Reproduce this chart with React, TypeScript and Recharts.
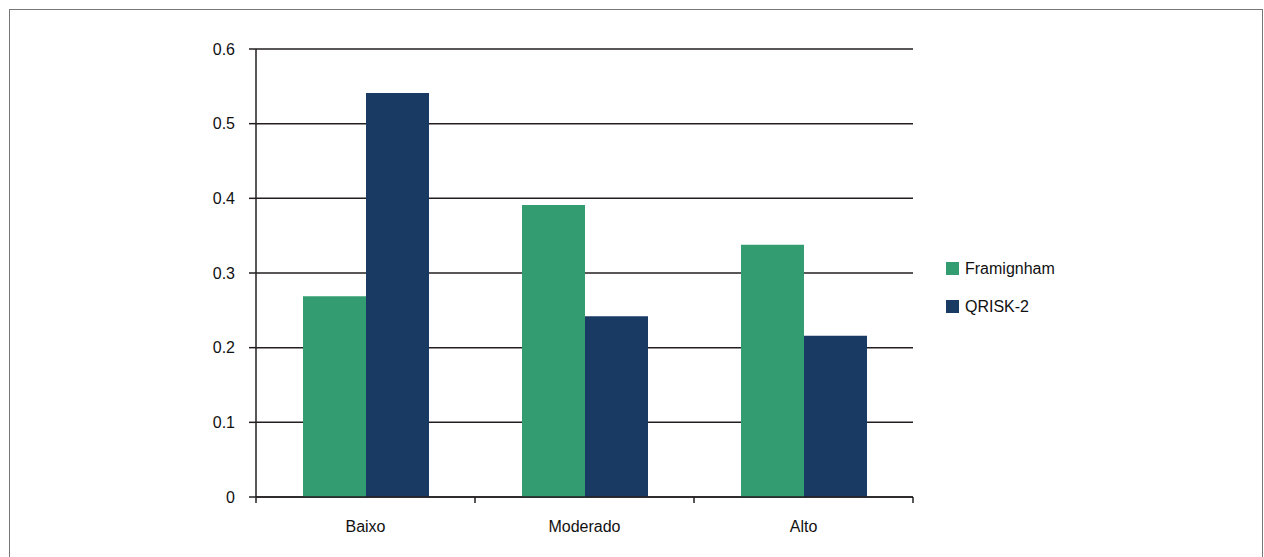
import React from 'react';
import { BarChart, Bar, XAxis, YAxis, CartesianGrid } from 'recharts';

const categories = ['Baixo', 'Moderado', 'Alto'];
const framingham = [0.269, 0.391, 0.338];
const qrisk2 = [0.541, 0.242, 0.216];
const yTicks = [0, 0.1, 0.2, 0.3, 0.4, 0.5, 0.6];
const seriesNames = ['Framignham', 'QRISK-2'];
const seriesColors = ['#339c70', '#193a63'];

const data = categories.map((c, i) => ({ name: c, f: framingham[i], q: qrisk2[i] }));

const FONT = '"Liberation Sans", Arial, sans-serif';
const X_TICK_SIZE = 5;

const XTick = (props: any) => {
  const { x, y, payload, index, visibleTicksCount } = props;
  const half = payload && payload.offset ? payload.offset : 109.5;
  const axisY = y - X_TICK_SIZE;
  const n = visibleTicksCount || categories.length;
  return (
    <g>
      <line x1={x - half} x2={x - half} y1={axisY} y2={axisY + 6} stroke="#231f20" strokeWidth={1.5} />
      {index === n - 1 && (
        <line x1={x + half} x2={x + half} y1={axisY} y2={axisY + 6} stroke="#231f20" strokeWidth={1.5} />
      )}
      <text x={x} y={axisY + 35} textAnchor="middle" fontSize={16} fontFamily={FONT} fill="#111">
        {payload.value}
      </text>
    </g>
  );
};

const LegendBox = () => (
  <div style={{ position: 'absolute', left: 936, top: 252, fontFamily: FONT, fontSize: 16, color: '#111' }}>
    {seriesNames.map((n, i) => (
      <div key={n} style={{ display: 'flex', alignItems: 'center', height: 13, marginBottom: 25 }}>
        <div style={{ width: 13, height: 13, background: seriesColors[i], marginRight: 6 }} />
        <span style={{ lineHeight: '13px', whiteSpace: 'nowrap' }}>{n}</span>
      </div>
    ))}
  </div>
);

export default function App() {
  return (
    <div style={{ position: 'absolute', left: 0, top: 0, width: 1264, height: 557, overflow: 'hidden', background: '#fff' }}>
      <div
        style={{
          position: 'absolute',
          left: 9,
          top: 9,
          width: 1254,
          height: 560,
          border: '1px solid #777',
          boxSizing: 'border-box',
        }}
      >
        <BarChart
          width={1252}
          height={546}
          data={data}
          margin={{ top: 39, right: 349, left: 186, bottom: 19 }}
          barCategoryGap={47}
          barGap={0}
        >
          <CartesianGrid vertical={false} stroke="#231f20" strokeWidth={1.5} />
          <XAxis
            dataKey="name"
            height={40}
            tickLine={false}
            tickSize={X_TICK_SIZE}
            tickMargin={0}
            axisLine={{ stroke: '#231f20', strokeWidth: 1.5 }}
            tick={<XTick />}
            interval={0}
          />
          <YAxis
            width={60}
            domain={[0, 0.6]}
            ticks={yTicks}
            tickSize={7}
            tickMargin={14}
            axisLine={{ stroke: '#231f20', strokeWidth: 1.5 }}
            tickLine={{ stroke: '#231f20', strokeWidth: 1.5 }}
            tick={{ fontSize: 16, fontFamily: FONT, fill: '#111' }}
          />
          <Bar dataKey="f" name={seriesNames[0]} fill={seriesColors[0]} isAnimationActive={false} />
          <Bar dataKey="q" name={seriesNames[1]} fill={seriesColors[1]} isAnimationActive={false} />
        </BarChart>
        <LegendBox />
      </div>
    </div>
  );
}
